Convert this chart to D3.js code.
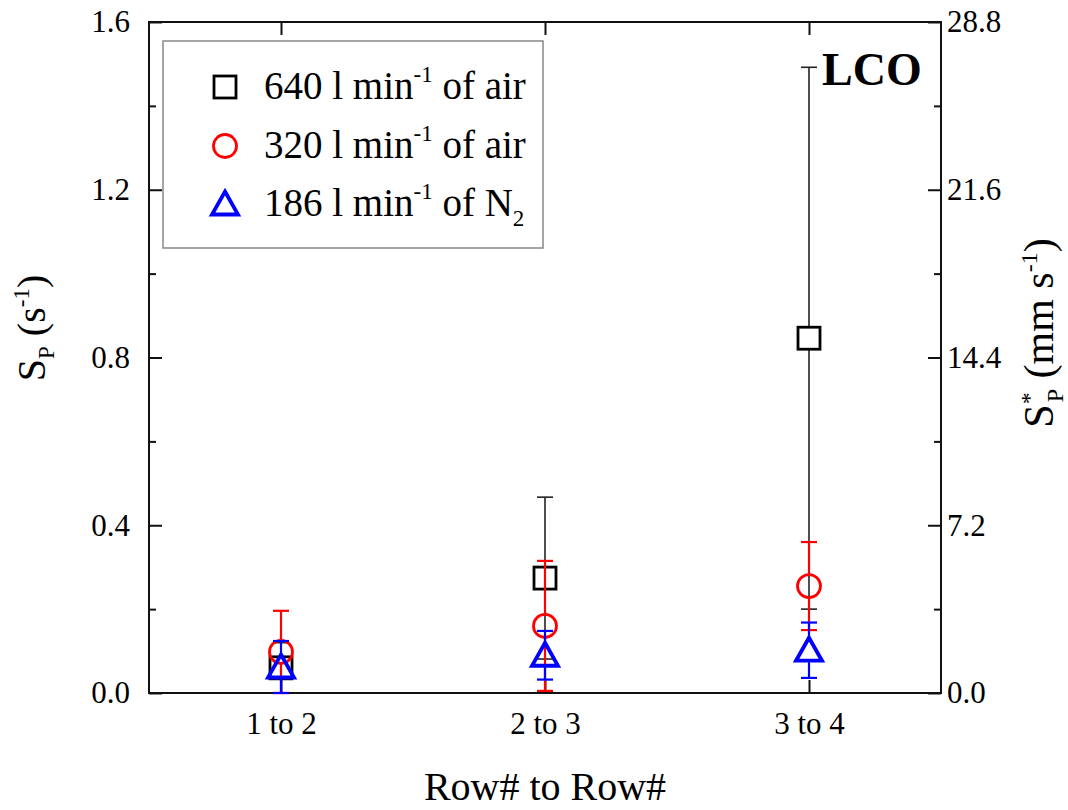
<!DOCTYPE html>
<html>
<head>
<meta charset="utf-8">
<script src="https://cdn.jsdelivr.net/npm/d3@7"></script>
<style>
  html, body { margin: 0; padding: 0; background: #fff; }
  svg { display: block; }
  text { font-family: "Liberation Serif", "Times New Roman", serif; fill: #000; }
</style>
</head>
<body>
<svg id="chart" width="1068" height="810"></svg>
<script>
// Row-to-row particle transfer: mean and error for three gas flows
const categories = ["1 to 2", "2 to 3", "3 to 4"];

const flowRates = ["640", "320", "186"];
const gases = ["air", "air", "N2"];

const values640 = [0.06, 0.274, 0.846];
const errors640 = [0.06, 0.193, 0.646];
const values320 = [0.098, 0.16, 0.255];
const errors320 = [0.098, 0.155, 0.105];
const values186 = [0.062, 0.09, 0.102];
const errors186 = [0.062, 0.058, 0.066];

const leftTicks = [0.0, 0.4, 0.8, 1.2, 1.6];
const leftMinorTicks = [0.2, 0.6, 1.0, 1.4];
const rightTicks = [0.0, 7.2, 14.4, 21.6, 28.8];
const rightMinorTicks = [3.6, 10.8, 18.0, 25.2];

const panelLabel = "LCO";
const xTitle = "Row# to Row#";

const svg = d3.select("#chart");
const L = 149, R = 941, T = 22, B = 693;

const x = d3.scalePoint().domain(categories).range([L, R]).padding(0.5);
const y = d3.scaleLinear().domain([0, 1.6]).range([B, T]);
const yR = d3.scaleLinear().domain([0, 28.8]).range([B, T]);

const fmt = d3.format(".1f");
const serif = "'Liberation Serif','Times New Roman',serif";

// ---- axes (ticks point inward) ----
function styleAxis(g) {
  g.attr("font-family", null).attr("font-size", null);
  g.select(".domain").remove();
  g.selectAll(".tick line").attr("stroke", "#111").attr("stroke-width", 2);
  g.selectAll(".tick text").style("font-family", serif)
    .style("font-size", "31px").attr("fill", "#000");
}

svg.append("g").attr("transform", `translate(${L},0)`)
  .call(d3.axisLeft(y).tickValues(leftTicks).tickSizeInner(-13).tickSizeOuter(0).tickPadding(19).tickFormat(fmt))
  .call(styleAxis);
svg.append("g").attr("transform", `translate(${L},0)`)
  .call(d3.axisLeft(y).tickValues(leftMinorTicks).tickSizeInner(-7).tickSizeOuter(0).tickFormat(""))
  .call(styleAxis);

svg.append("g").attr("transform", `translate(${R},0)`)
  .call(d3.axisRight(yR).tickValues(rightTicks).tickSizeInner(-13).tickSizeOuter(0).tickPadding(6).tickFormat(fmt))
  .call(styleAxis);
svg.append("g").attr("transform", `translate(${R},0)`)
  .call(d3.axisRight(yR).tickValues(rightMinorTicks).tickSizeInner(-7).tickSizeOuter(0).tickFormat(""))
  .call(styleAxis);

svg.append("g").attr("transform", `translate(0,${B})`)
  .call(d3.axisBottom(x).tickSizeInner(-13).tickSizeOuter(0).tickPadding(19))
  .call(styleAxis);
svg.append("g").attr("transform", `translate(0,${T})`)
  .call(d3.axisTop(x).tickSizeInner(-13).tickSizeOuter(0).tickFormat(""))
  .call(styleAxis);

// frame
svg.append("rect").attr("x", L).attr("y", T).attr("width", R - L).attr("height", B - T)
  .attr("fill", "none").attr("stroke", "#111").attr("stroke-width", 2);

// ---- axis titles ----
const yl = svg.append("text").attr("transform", "translate(45,328) rotate(-90)")
  .attr("text-anchor", "middle").style("font-size", "40px");
yl.append("tspan").text("S");
yl.append("tspan").attr("dy", 9).style("font-size", "23px").text("P");
yl.append("tspan").attr("dy", -9).text(" (s");
yl.append("tspan").attr("dy", -16).style("font-size", "23px").text("-1");
yl.append("tspan").attr("dy", 16).text(")");

const yr = svg.append("text").attr("transform", "translate(1053,333) rotate(-90)")
  .attr("text-anchor", "middle").style("font-size", "42px");
yr.append("tspan").text("S");
yr.append("tspan").attr("dy", -16).style("font-size", "24px").text("*");
yr.append("tspan").attr("dx", -10).attr("dy", 26).style("font-size", "24px").text("P");
yr.append("tspan").attr("dy", -10).text(" (mm s");
yr.append("tspan").attr("dy", -16).style("font-size", "24px").text("-1");
yr.append("tspan").attr("dy", 16).text(")");

svg.append("text").attr("x", (L + R) / 2).attr("y", 800).attr("text-anchor", "middle")
  .style("font-size", "40px").text(xTitle);

svg.append("text").attr("x", 822).attr("y", 85).style("font-size", "46px")
  .style("font-weight", "bold").text(panelLabel);

// ---- series ----
const triPath = "M0,-12.5L13,10.5L-13,10.5Z";
const series = [
  { vals: values640, errs: errors640, color: "#000", bar: "#222", barW: 1.6, shape: "square", half: 11 },
  { vals: values320, errs: errors320, color: "#ff0000", bar: "#ff0000", barW: 2.2, shape: "circle", half: 12 },
  { vals: values186, errs: errors186, color: "#0000ff", bar: "#0000ff", barW: 2.2, shape: "triangle", half: 12 }
];

function drawMarker(g, shape, color) {
  if (shape === "square") {
    g.append("rect").attr("x", -11).attr("y", -11).attr("width", 22).attr("height", 22)
      .attr("fill", "none").attr("stroke", color).attr("stroke-width", 2.8);
  } else if (shape === "circle") {
    g.append("circle").attr("r", 11.5).attr("fill", "none").attr("stroke", color).attr("stroke-width", 2.8);
  } else {
    g.append("path").attr("d", triPath).attr("fill", "none").attr("stroke", color)
      .attr("stroke-width", 3.8).attr("stroke-linejoin", "miter");
  }
}

series.forEach(s => {
  const g = svg.append("g");
  categories.forEach((c, i) => {
    const cx = x(c), v = s.vals[i], e = s.errs[i];
    const yc = y(v), yTop = y(v + e), yBot = y(Math.max(0, v - e));
    const eg = g.append("g").attr("stroke", s.bar).attr("stroke-width", s.barW);
    if (yc - s.half > yTop) eg.append("line").attr("x1", cx).attr("x2", cx).attr("y1", yTop).attr("y2", yc - s.half);
    if (yc + s.half < yBot) eg.append("line").attr("x1", cx).attr("x2", cx).attr("y1", yc + s.half).attr("y2", yBot);
    eg.append("line").attr("x1", cx - 8).attr("x2", cx + 8).attr("y1", yTop).attr("y2", yTop);
    eg.append("line").attr("x1", cx - 8).attr("x2", cx + 8).attr("y1", yBot).attr("y2", yBot);
    const mg = g.append("g").attr("transform", `translate(${cx},${yc})`);
    drawMarker(mg, s.shape, s.color);
  });
});

// ---- legend ----
svg.append("rect").attr("x", 163).attr("y", 41).attr("width", 380).attr("height", 207)
  .attr("fill", "#fff").attr("stroke", "#888").attr("stroke-width", 1.5);

const legendY = [87, 146, 204];
series.forEach((s, i) => {
  const mg = svg.append("g").attr("transform", `translate(225,${legendY[i]})`);
  drawMarker(mg, s.shape, s.color);
  const t = svg.append("text").attr("x", 264).attr("y", legendY[i] + 12).style("font-size", "39px");
  t.append("tspan").text(`${flowRates[i]} l min`);
  t.append("tspan").attr("dy", -17).style("font-size", "23px").text("-1");
  const gas = gases[i];
  if (gas === "N2") {
    t.append("tspan").attr("dy", 17).text(" of N");
    t.append("tspan").attr("dy", 10).style("font-size", "23px").text("2");
  } else {
    t.append("tspan").attr("dy", 17).text(` of ${gas}`);
  }
});
</script>
</body>
</html>
